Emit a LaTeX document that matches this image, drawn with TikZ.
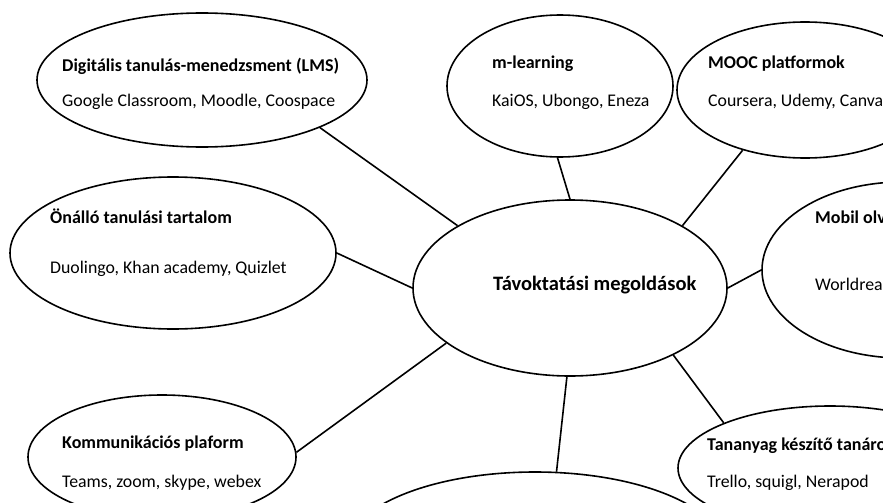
\documentclass[tikz,border=0pt]{standalone}
\usepackage{fontspec}
\setmainfont{Carlito}
\usetikzlibrary{shapes.geometric}
\begin{document}
\begin{tikzpicture}[x=1pt,y=-1pt,
  bubble/.style={draw=black,line width=1.6pt,ellipse,inner sep=0pt},
  link/.style={draw=black,line width=1.6pt},
  txt/.style={inner sep=0pt,anchor=base west,font=\fontsize{17.8}{20}\selectfont},
  ttl/.style={txt,font=\fontsize{18}{20}\selectfont\bfseries}]
\useasboundingbox (0,0) rectangle (883,503);
\fill[white] (0,0) rectangle (883,503);
\clip (0,0) rectangle (883,503);
% ellipses
\node[bubble,minimum width=330pt,minimum height=134pt] (lms) at (202,80) {};
\node[bubble,minimum width=226pt,minimum height=142pt] (ml) at (560,86) {};
\node[bubble,minimum width=256pt,minimum height=136pt] (mooc) at (805,90) {};
\node[bubble,minimum width=326pt,minimum height=152pt] (onallo) at (173,253) {};
\node[bubble,minimum width=314pt,minimum height=176pt] (c) at (570,288) {};
\node[bubble,minimum width=280pt,minimum height=176pt] (mobil) at (902,270) {};
\node[bubble,minimum width=268pt,minimum height=124pt] (komm) at (162,457) {};
\node[bubble,minimum width=380pt,minimum height=160pt] (bottom) at (535,552) {};
\node[bubble,minimum width=304pt,minimum height=124pt] (tan) at (830,468) {};
% connectors
\draw[link] (lms.-22) -- (c.151);
\draw[link] (ml.-92) -- (c.90);
\draw[link] (mooc.-136) -- (c.29);
\draw[link] (onallo.0) -- (c.180);
\draw[link] (c.0) -- (mobil.180);
\draw[link] (komm.2) -- (c.-156);
\draw[link] (c.-92) -- (bottom.75);
\draw[link] (c.-33) -- (tan.157);
% texts
\node[ttl] (t1) at (62,71) {Digitális tanulás-menedzsment (LMS)};
\node[txt] (s1) at (62,106) {Google Classroom, Moodle, Coospace};
\node[ttl] (t2) at (492,68) {m-learning};
\node[txt] (s2) at (492,106) {KaiOS, Ubongo, Eneza};
\node[ttl] (t3) at (708,68) {MOOC platformok};
\node[txt] (s3) at (708,106) {Coursera, Udemy, Canvas};
\node[ttl] (t4) at (50,223) {Önálló tanulási tartalom};
\node[txt] (s4) at (50,273) {Duolingo, Khan academy, Quizlet};
\node[ttl,font=\fontsize{20.5}{23}\selectfont\bfseries] (t5) at (493,290) {Távoktatási megoldások};
\node[ttl] (t6) at (815,223) {Mobil olvasás};
\node[txt] (s6) at (815,290) {Worldreader};
\node[ttl] (t7) at (62,448) {Kommunikációs plaform};
\node[txt] (s7) at (62,487) {Teams, zoom, skype, webex};
\node[ttl] (t8) at (707,450) {Tananyag készítő tanároknak};
\node[txt] (s8) at (707,487) {Trello, squigl, Nerapod};
\end{tikzpicture}
\end{document}
